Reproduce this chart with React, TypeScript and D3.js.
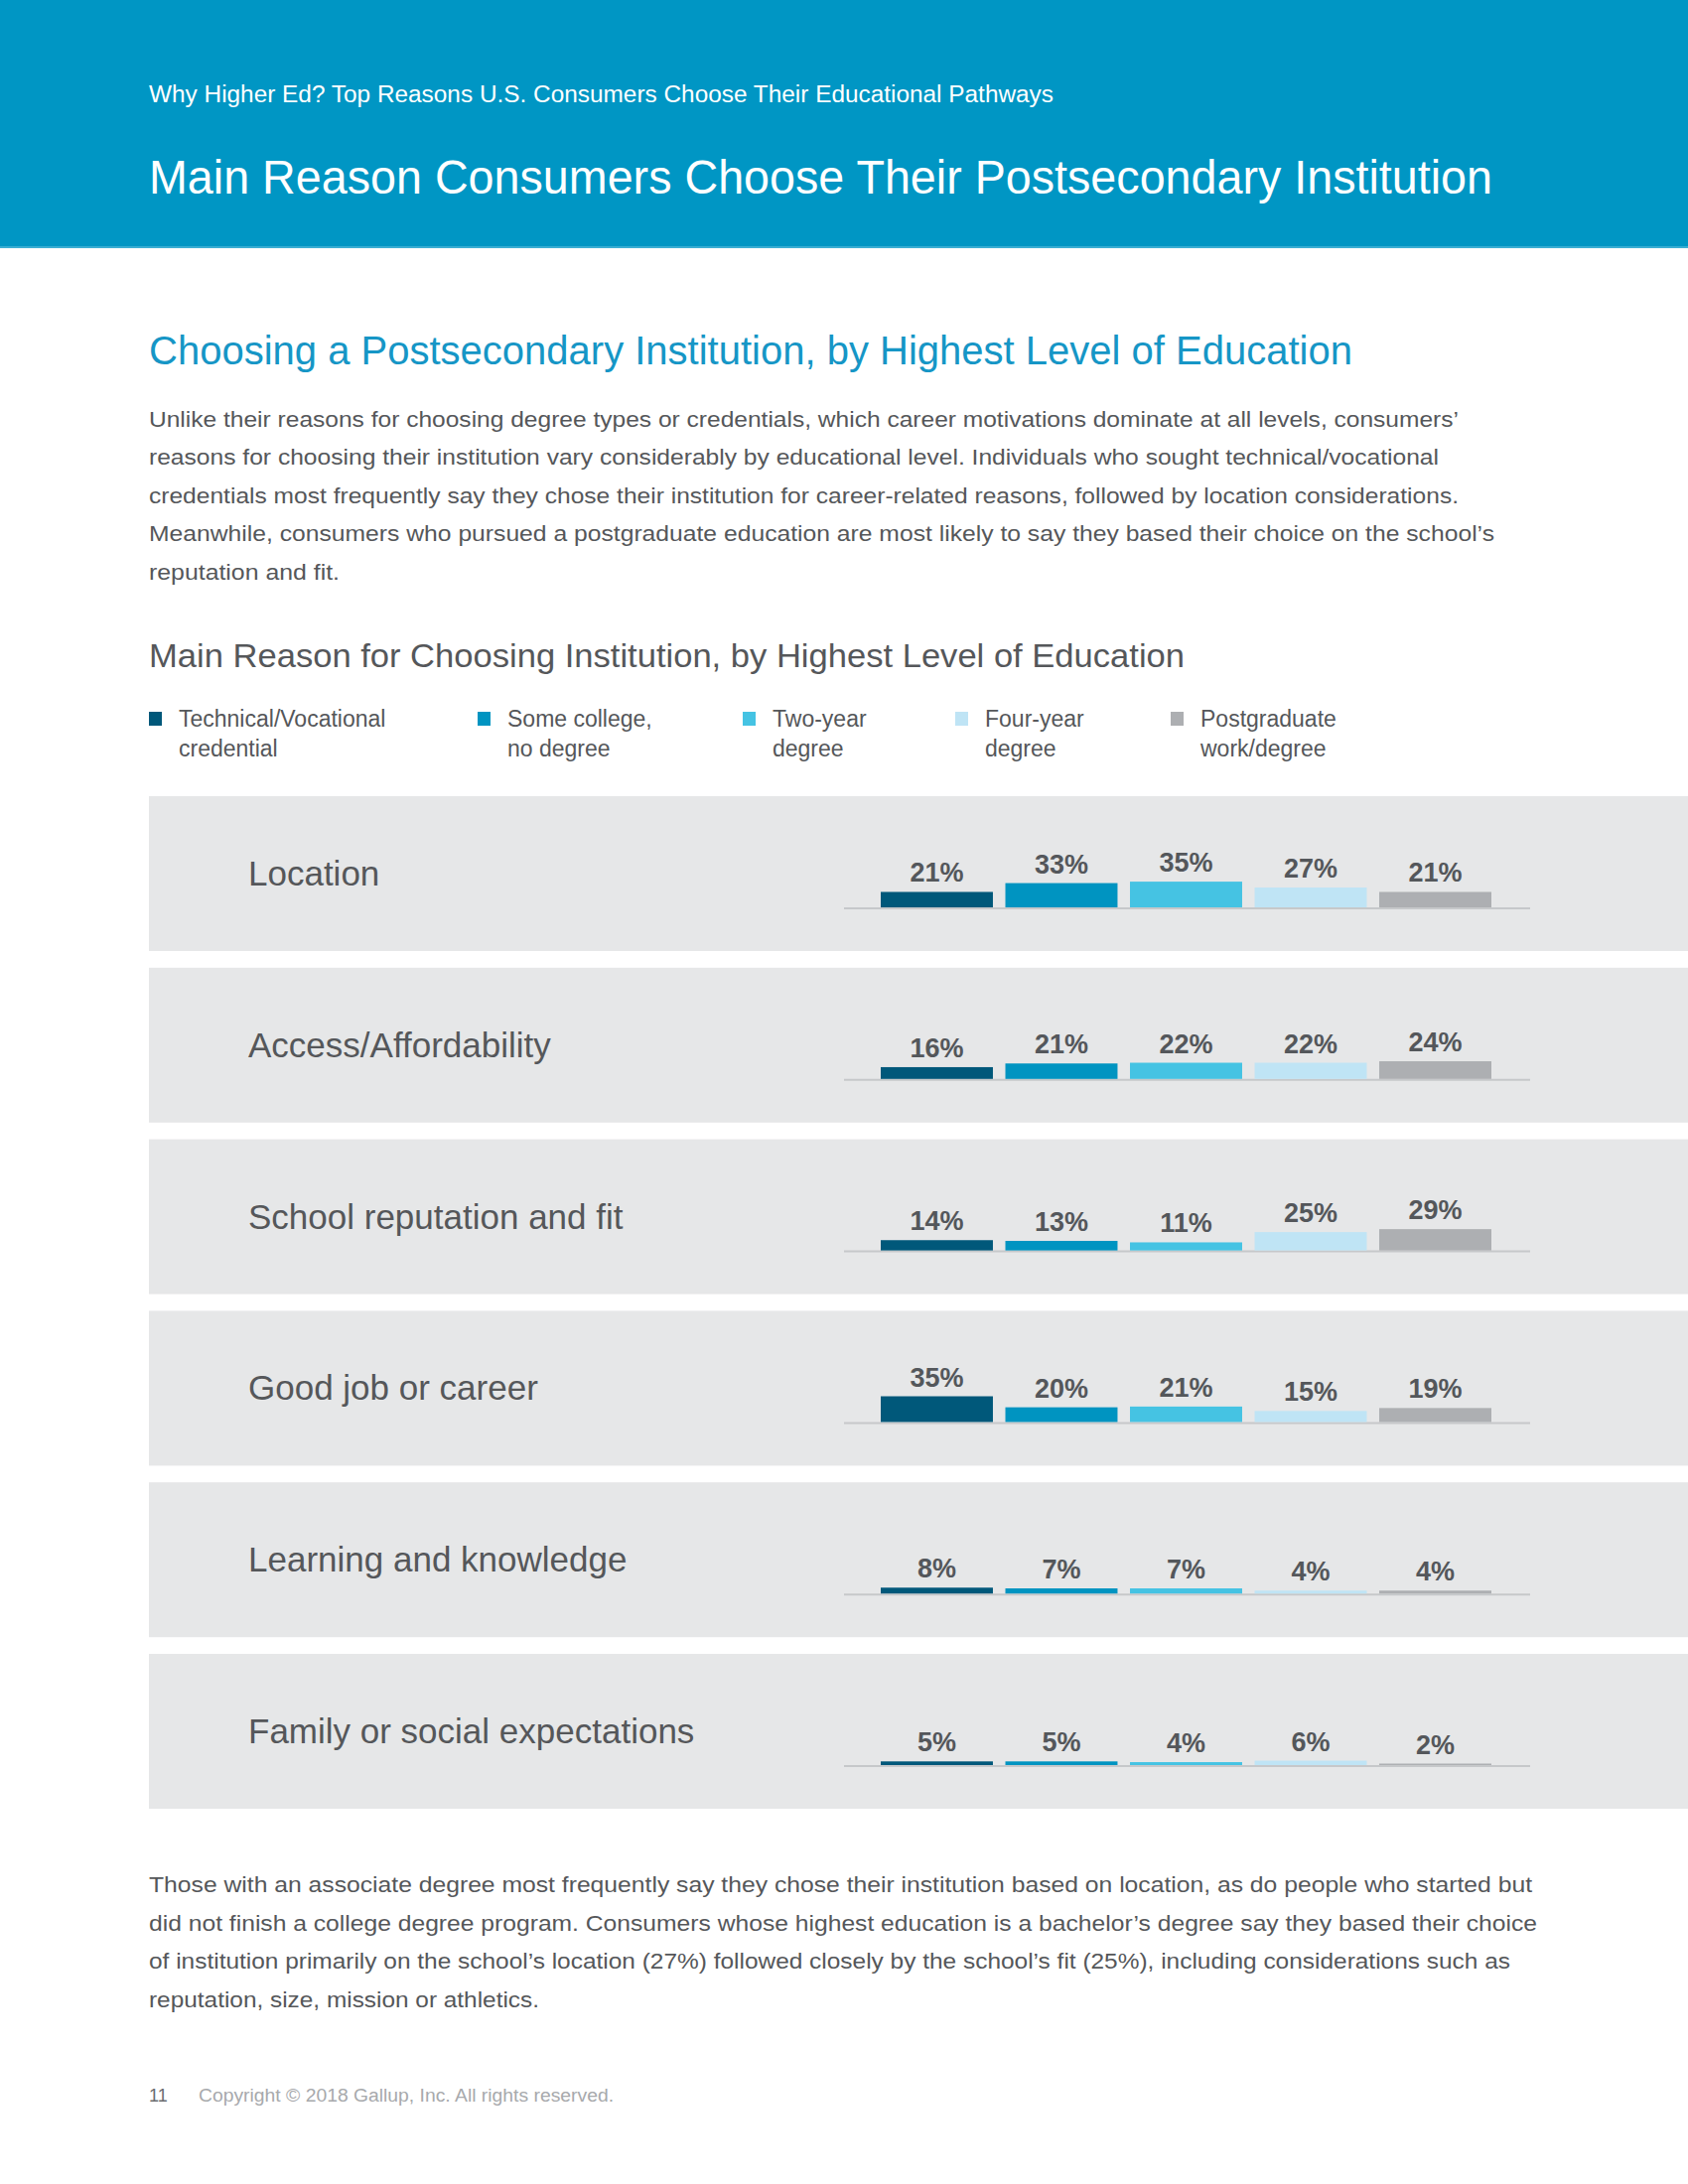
import React from "react";
import * as d3 from "d3";

const categories = [
  "Location",
  "Access/Affordability",
  "School reputation and fit",
  "Good job or career",
  "Learning and knowledge",
  "Family or social expectations",
];

const seriesNames = [
  "Technical/Vocational|credential",
  "Some college,|no degree",
  "Two-year|degree",
  "Four-year|degree",
  "Postgraduate|work/degree",
];

const technical = [21, 16, 14, 35, 8, 5];
const someCollege = [33, 21, 13, 20, 7, 5];
const twoYear = [35, 22, 11, 21, 7, 4];
const fourYear = [27, 22, 25, 15, 4, 6];
const postgrad = [21, 24, 29, 19, 4, 2];

const seriesValues = [technical, someCollege, twoYear, fourYear, postgrad];
const seriesColors = ["#00587a", "#0094c1", "#45c3e3", "#bfe4f5", "#adafb2"];

const headerSub = "Why Higher Ed? Top Reasons U.S. Consumers Choose Their Educational Pathways";
const headerTitle = "Main Reason Consumers Choose Their Postsecondary Institution";
const sectionHeading = "Choosing a Postsecondary Institution, by Highest Level of Education";
const introLines = [
  "Unlike their reasons for choosing degree types or credentials, which career motivations dominate at all levels, consumers\u2019",
  "reasons for choosing their institution vary considerably by educational level. Individuals who sought technical/vocational",
  "credentials most frequently say they chose their institution for career-related reasons, followed by location considerations.",
  "Meanwhile, consumers who pursued a postgraduate education are most likely to say they based their choice on the school\u2019s",
  "reputation and fit.",
];
const introWidths = [1319, 1299, 1319, 1355, 192];
const chartTitle = "Main Reason for Choosing Institution, by Highest Level of Education";
const outroLines = [
  "Those with an associate degree most frequently say they chose their institution based on location, as do people who started but",
  "did not finish a college degree program. Consumers whose highest education is a bachelor\u2019s degree say they based their choice",
  "of institution primarily on the school\u2019s location (27%) followed closely by the school\u2019s fit (25%), including considerations such as",
  "reputation, size, mission or athletics.",
];
const outroWidths = [1393, 1398, 1371, 393];
const pageNumber = "11";
const copyright = "Copyright \u00a9 2018 Gallup, Inc. All rights reserved.";

const FONT = "'Helvetica Neue', 'Liberation Sans', Arial, sans-serif";
const TEXT = "#55575a";

export default function App() {
  const W = 1700;
  const H = 2200;
  const left = 150;

  // panel layout
  const panelTop0 = 802;
  const panelStep = 172.8;
  const panelH = 156;
  const rowScale = d3
    .scaleLinear()
    .domain([0, categories.length - 1])
    .range([panelTop0, panelTop0 + panelStep * (categories.length - 1)]);

  const x = d3
    .scaleBand<number>()
    .domain(d3.range(seriesValues.length))
    .range([887, 1502])
    .paddingInner(0.1)
    .paddingOuter(0);

  const h = d3.scaleLinear().domain([0, 100]).range([0, 74]);

  const legendX = [150, 481, 748, 962, 1179];

  return (
    <svg
      width={W}
      height={H}
      style={{ position: "absolute", left: 0, top: 0, display: "block" }}
      fontFamily={FONT}
    >
      <rect x={0} y={0} width={W} height={H} fill="#ffffff" />
      {/* header band */}
      <rect x={0} y={0} width={W} height={250} fill="#0096c4" />
      <rect x={0} y={248} width={W} height={2} fill="#3aaed3" />
      <text x={left} y={103} fill="#ffffff" fontSize={23} textLength={911} lengthAdjust="spacingAndGlyphs">
        {headerSub}
      </text>
      <text x={left} y={195} fill="#ffffff" fontSize={48} textLength={1353} lengthAdjust="spacingAndGlyphs">
        {headerTitle}
      </text>

      {/* section heading */}
      <text x={left} y={367} fill="#1696c6" fontSize={40} textLength={1212} lengthAdjust="spacingAndGlyphs">
        {sectionHeading}
      </text>
      {introLines.map((ln, i) => (
        <text
          key={i}
          x={left}
          y={430 + i * 38.4}
          fill={TEXT}
          fontSize={21.5}
          textLength={introWidths[i]}
          lengthAdjust="spacingAndGlyphs"
        >
          {ln}
        </text>
      ))}

      {/* chart title */}
      <text x={left} y={672} fill={TEXT} fontSize={34} textLength={1043} lengthAdjust="spacingAndGlyphs">
        {chartTitle}
      </text>

      {/* legend */}
      {seriesNames.map((s, i) => {
        const parts = s.split("|");
        return (
          <g key={i} transform={`translate(${legendX[i]},0)`}>
            <rect x={0} y={717} width={13} height={14} fill={seriesColors[i]} />
            {parts.map((p, j) => (
              <text key={j} x={30} y={732 + j * 30} fill={TEXT} fontSize={23}>
                {p}
              </text>
            ))}
          </g>
        );
      })}

      {/* panels */}
      {categories.map((cat, ci) => {
        const top = rowScale(ci);
        const base = top + 112;
        return (
          <g key={cat}>
            <rect x={left} y={top} width={W - left} height={panelH} fill="#e6e7e8" />
            <text x={250} y={top + 90} fill={TEXT} fontSize={35}>
              {cat}
            </text>
            <line x1={850} x2={1541} y1={base + 1} y2={base + 1} stroke="#c6c8ca" strokeWidth={2} />
            {seriesValues.map((vals, si) => {
              const v = vals[ci];
              const bh = h(v);
              const bx = x(si) as number;
              return (
                <g key={si}>
                  <rect x={bx} y={base - bh} width={x.bandwidth()} height={bh} fill={seriesColors[si]} />
                  <text
                    x={bx + x.bandwidth() / 2}
                    y={base - bh - 10}
                    textAnchor="middle"
                    fill="#54575b"
                    fontSize={27}
                    fontWeight="bold"
                  >
                    {`${v}%`}
                  </text>
                </g>
              );
            })}
          </g>
        );
      })}

      {/* closing paragraph */}
      {outroLines.map((ln, i) => (
        <text
          key={i}
          x={left}
          y={1906 + i * 38.5}
          fill={TEXT}
          fontSize={21.5}
          textLength={outroWidths[i]}
          lengthAdjust="spacingAndGlyphs"
        >
          {ln}
        </text>
      ))}

      {/* footer */}
      <text x={left} y={2117} fill="#6b6d70" fontSize={18}>
        {pageNumber}
      </text>
      <text x={200} y={2117} fill="#a7a9ac" fontSize={18} textLength={418} lengthAdjust="spacingAndGlyphs">
        {copyright}
      </text>
    </svg>
  );
}
